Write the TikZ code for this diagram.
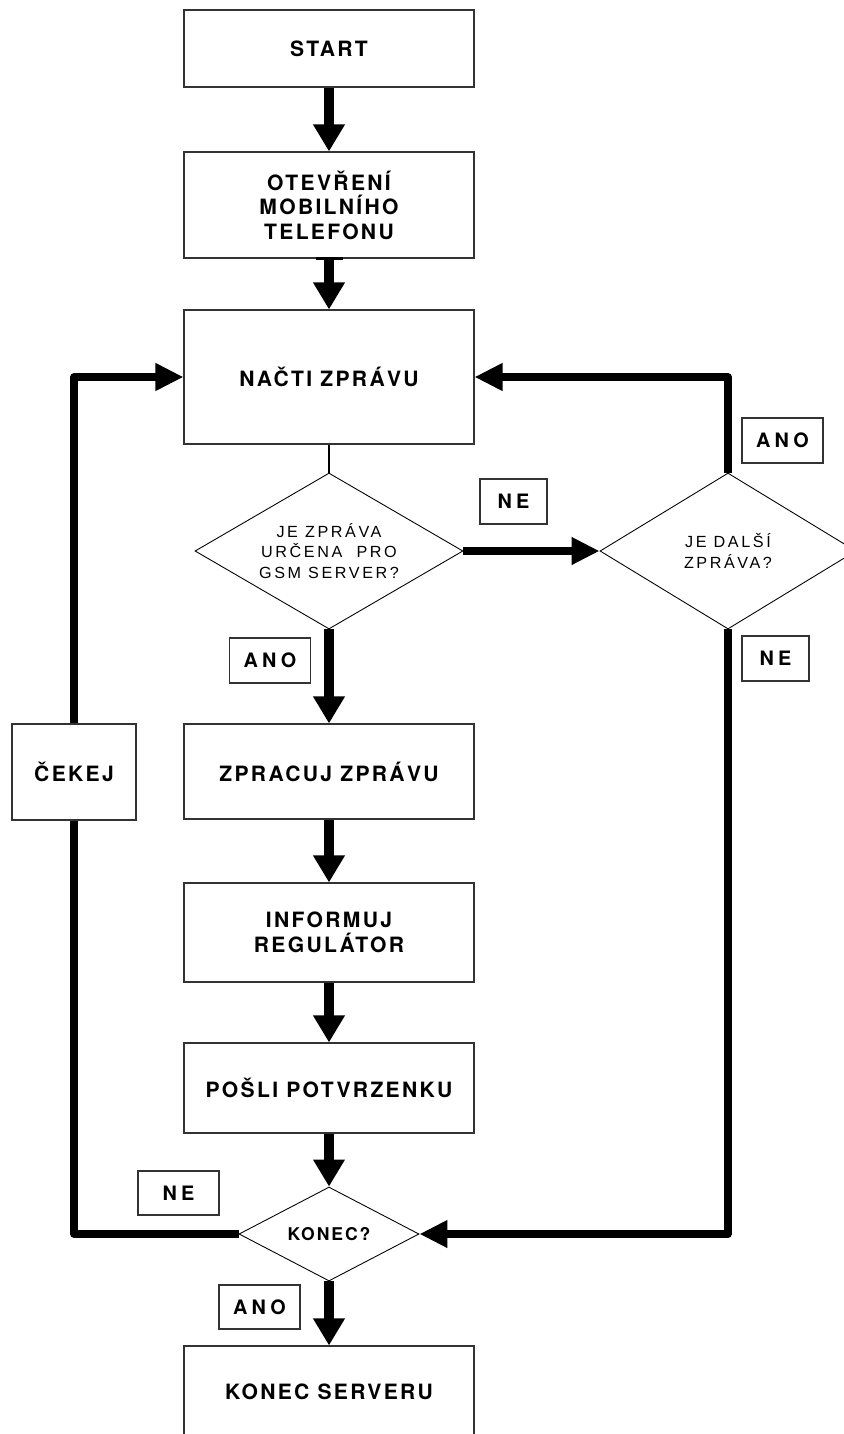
\documentclass[tikz,border=0pt]{standalone}
\usepackage{fontspec}
\setmainfont{Liberation Sans}
\newfontfamily\flowfont[LetterSpace=11]{TeX Gyre Heros}
\newfontfamily\tagfont[LetterSpace=21]{TeX Gyre Heros}
\newfontfamily\askfont[LetterSpace=16]{Liberation Sans}
\usetikzlibrary{arrows.meta,shapes.geometric}

\begin{document}
\begin{tikzpicture}[thick]
	\clip (0,0) rectangle (16.88,-28.68);

	\tikzstyle{proc}=[rectangle, draw=black!80, line width=0.6pt, fill=white, minimum width=5.8cm, font=\flowfont\bfseries\fontsize{12}{14}\selectfont, align=center]
	\tikzstyle{ask}=[diamond, draw=black, line width=0.5pt, inner sep=0pt, aspect=1.72, font=\askfont\fontsize{9.2}{11.6}\selectfont, align=center]
	\tikzstyle{tag}=[rectangle, draw=black!80, line width=0.6pt, minimum width=1.62cm, minimum height=0.9cm, font=\tagfont\bfseries\fontsize{11.3}{14}\selectfont]
	\tikzstyle{flowarrow}=[-{Triangle[length=0.54cm, width=0.6cm]}, line width=0.19cm]
	\tikzstyle{backarrow}=[-{Triangle[length=0.56cm, width=0.52cm]}, line width=0.15cm, line join=round]
	\tikzstyle{backline}=[line width=0.15cm, line join=round]

	% main column
	\node[proc, minimum height=1.54cm] (start) at (6.58,-0.97) {START};
	\node[proc, minimum height=2.12cm] (otev) at (6.58,-4.10) {OTEVŘENÍ\\MOBILNÍHO\\TELEFONU};
	\node[proc, minimum height=2.68cm] (nacti) at (6.58,-7.54) {NAČTI ZPRÁVU};
	\node[ask, minimum width=5.36cm, minimum height=3.12cm] (urcena) at (6.58,-11.02) {JE ZPRÁVA\\URČENA~~PRO\\GSM SERVER?};
	\node[ask, aspect=1.64, minimum width=5.12cm, minimum height=3.12cm] (dalsi) at (14.56,-11.02) {JE DALŠÍ\\ZPRÁVA?};
	\node[proc, minimum height=1.9cm] (zpracuj) at (6.58,-15.43) {ZPRACUJ ZPRÁVU};
	\node[proc, minimum height=1.98cm] (inform) at (6.58,-18.65) {INFORMUJ\\REGULÁTOR};
	\node[proc, minimum height=1.8cm] (posli) at (6.58,-21.76) {POŠLI POTVRZENKU};
	\node[ask, aspect=1.91, minimum width=3.6cm, minimum height=1.88cm, font=\flowfont\bfseries\fontsize{10}{11}\selectfont] (konec) at (6.58,-24.68) {KONEC?};
	\node[proc, minimum height=1.84cm] (konsrv) at (6.58,-27.84) {KONEC SERVERU};
	\node[proc, minimum width=2.48cm, minimum height=1.92cm] (cekej) at (1.48,-15.44) {ČEKEJ};

	% answers
	\node[tag, minimum width=1.34cm] (ne1) at (10.27,-10.03) {NE};
	\node[tag] (ano1) at (5.40,-13.21) {ANO};
	\node[tag] (ano2) at (15.65,-8.81) {ANO};
	\node[tag, minimum width=1.34cm] (ne2) at (15.51,-13.17) {NE};
	\node[tag, minimum height=0.88cm] (ne3) at (3.57,-23.86) {NE};
	\node[tag, minimum height=0.88cm] (ano3) at (5.19,-26.14) {ANO};

	% flow
	\draw[flowarrow] (start) -- (otev);
	\draw[flowarrow] (otev) -- (nacti);
	\draw[line width=1.5pt] (otev.south) ++(-0.27,0) -- ++(0.54,0);
	\draw[line width=0.6pt] (nacti) -- (urcena);
	\draw[flowarrow] (urcena) -- (zpracuj);
	\draw[flowarrow] (zpracuj) -- (inform);
	\draw[flowarrow] (inform) -- (posli);
	\draw[flowarrow] (posli) -- (konec);
	\draw[flowarrow] (konec) -- (konsrv);
	\draw[backarrow] (urcena.east) -- (dalsi.west);

	% loops
	\draw[backarrow] (dalsi.north) |- (nacti.east);
	\draw[backarrow] (dalsi.south) |- (konec.east);
	\draw[backline] (konec.west) -| (cekej.south);
	\draw[backarrow] (cekej.north) |- (nacti.west);
\end{tikzpicture}
\end{document}
